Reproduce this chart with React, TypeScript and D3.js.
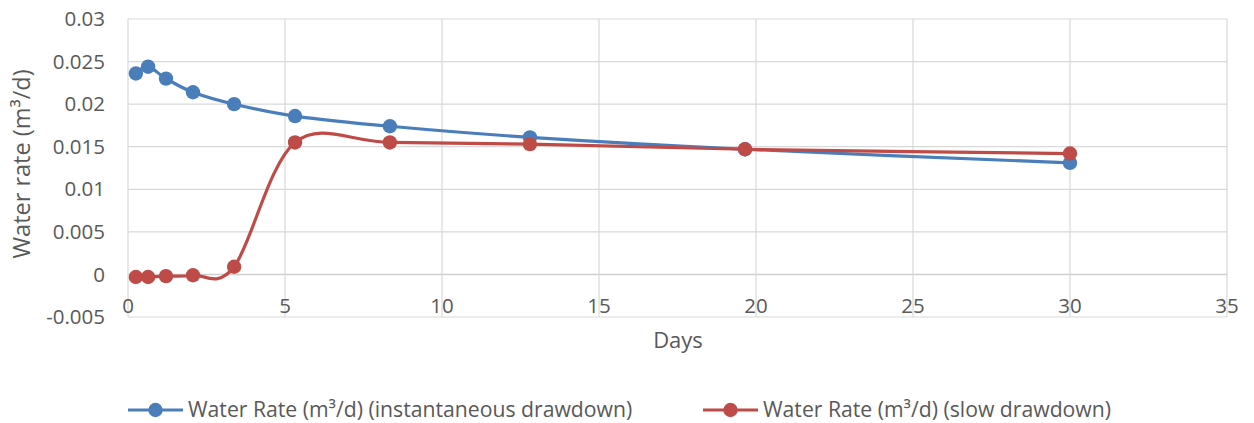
import React from "react";
import * as d3 from "d3";

const days = [0.25, 0.64, 1.21, 2.07, 3.38, 5.32, 8.34, 12.8, 19.65, 30];
const instantaneous = [0.0236, 0.0244, 0.0230, 0.0214, 0.0200, 0.0186, 0.0174, 0.0161, 0.0147, 0.0131];
const slow = [-0.0003, -0.0003, -0.0002, -0.0001, 0.0009, 0.0155, 0.0155, 0.0153, 0.0147, 0.0142];
const xTicks = [0, 5, 10, 15, 20, 25, 30, 35];
const yTicks = [-0.005, 0, 0.005, 0.01, 0.015, 0.02, 0.025, 0.03];
const seriesNames = ["Water Rate (m³/d) (instantaneous drawdown)", "Water Rate (m³/d) (slow drawdown)"];
const colors = ["#4A7EBB", "#BE4B48"];

const W = 1254, H = 423;
const FONT = "'Open Sans', 'Noto Sans', sans-serif";

export default function App() {
  const x = d3.scaleLinear().domain([0, 35]).range([128, 1227]);
  const y = d3.scaleLinear().domain([-0.005, 0.03]).range([317, 19]);
  const line = d3
    .line<[number, number]>()
    .x((d) => x(d[0]))
    .y((d) => y(d[1]))
    .curve(d3.curveCardinal.tension(0));
  const series = [instantaneous, slow];
  const legendX = [128, 703];
  return (
    <svg width={W} height={H} style={{ position: "absolute", left: 0, top: 0 }} fontFamily={FONT}>
      <rect width={W} height={H} fill="#fff" />
      {yTicks.map((t) => (
        <line key={"hy" + t} x1={128} x2={1227} y1={y(t)} y2={y(t)} stroke={t === 0 ? "#CFCFCF" : "#D9D9D9"} strokeWidth={t === 0 ? 1.5 : 1.2} />
      ))}
      {xTicks.map((t) => (
        <line key={"vx" + t} x1={x(t)} x2={x(t)} y1={19} y2={317} stroke="#D9D9D9" strokeWidth={1.2} />
      ))}
      {yTicks.map((t) => (
        <text key={"ty" + t} x={105} y={y(t)} dy="0.35em" textAnchor="end" fontSize={20.5} fill="#595959">
          {String(t)}
        </text>
      ))}
      {xTicks.map((t) => (
        <text key={"tx" + t} x={x(t)} y={306} dy="0.35em" textAnchor="middle" fontSize={20.5} fill="#595959">
          {t}
        </text>
      ))}
      <text x={678} y={340} dy="0.35em" textAnchor="middle" fontSize={22} fill="#595959">
        Days
      </text>
      <text transform={`translate(22,164) rotate(-90)`} dy="0.35em" textAnchor="middle" fontSize={23.5} fill="#595959">
        Water rate (m³/d)
      </text>
      {series.map((s, i) => {
        const pts = days.map((d, j) => [d, s[j]] as [number, number]);
        return (
          <g key={"s" + i}>
            <path d={line(pts) || ""} fill="none" stroke={colors[i]} strokeWidth={3.2} />
            {pts.map((p, j) => (
              <circle key={j} cx={x(p[0])} cy={y(p[1])} r={7.2} fill={colors[i]} />
            ))}
          </g>
        );
      })}
      {seriesNames.map((n, i) => (
        <g key={"l" + i}>
          <line x1={legendX[i]} x2={legendX[i] + 55} y1={410} y2={410} stroke={colors[i]} strokeWidth={3.2} />
          <circle cx={legendX[i] + 27.5} cy={410} r={7.2} fill={colors[i]} />
          <text x={legendX[i] + 60} y={410} dy="0.35em" fontSize={21.2} fill="#595959">
            {n}
          </text>
        </g>
      ))}
    </svg>
  );
}
